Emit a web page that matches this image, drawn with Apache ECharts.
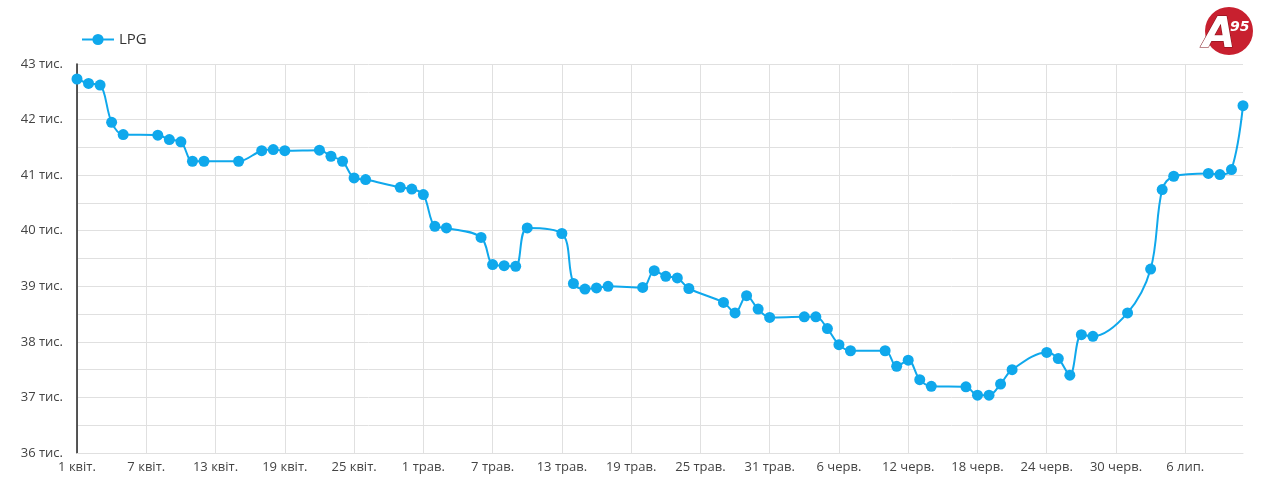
<!DOCTYPE html>
<html>
<head>
<meta charset="utf-8">
<script src="https://cdn.jsdelivr.net/npm/echarts@6/dist/echarts.min.js"></script>
<style>
html,body{margin:0;padding:0;background:#fff;}
#chart{width:1280px;height:486px;}
</style>
</head>
<body>
<div id="chart"></div>
<script>
// Day offsets from 1 квіт.
const days = [0,1,2,3,4,7,8,9,10,11,14,16,17,18,21,22,23,24,25,28,29,30,31,32,35,36,37,38,39,42,43,44,45,46,49,50,51,52,53,56,57,58,59,60,63,64,65,66,67,70,71,72,73,74,77,78,79,80,81,84,85,86,87,88,91,93,94,95,98,99,100,101];
// LPG values, thousands
const lpg = [42.73,42.65,42.62,41.95,41.73,41.72,41.64,41.60,41.25,41.25,41.25,41.44,41.46,41.44,41.45,41.34,41.25,40.95,40.92,40.78,40.75,40.65,40.08,40.05,39.88,39.39,39.37,39.36,40.05,39.95,39.05,38.95,38.97,39.00,38.98,39.28,39.18,39.15,38.96,38.71,38.52,38.83,38.59,38.44,38.45,38.45,38.24,37.95,37.84,37.84,37.56,37.67,37.32,37.20,37.19,37.04,37.04,37.24,37.50,37.81,37.70,37.40,38.13,38.10,38.52,39.31,40.74,40.98,41.03,41.01,41.10,42.25];
const xTickLabels = ['1 квіт.','7 квіт.','13 квіт.','19 квіт.','25 квіт.','1 трав.','7 трав.','13 трав.','19 трав.','25 трав.','31 трав.','6 черв.','12 черв.','18 черв.','24 черв.','30 черв.','6 лип.'];
const yTickSuffix = ' тис.';

const color = '#0fa8ec';
const font = '"Open Sans", "Noto Sans", sans-serif';

const chart = echarts.init(document.getElementById('chart'), null, {renderer: 'canvas'});
chart.setOption({
  animation: false,
  textStyle: {fontFamily: font},
  legend: {
    left: 76, top: 27,
    itemWidth: 32, itemHeight: 14, itemGap: 8,
    textStyle: {fontSize: 15, color: '#333', fontFamily: font},
    data: ['LPG']
  },
  grid: {left: 77, right: 37, top: 64, bottom: 33, outerBoundsMode: 'none'},
  xAxis: {
    type: 'value', min: 0, max: 101, interval: 6,
    axisLine: {show: true, lineStyle: {color: '#e0e0e0'}},
    axisTick: {show: false},
    axisLabel: {
      color: '#444', fontSize: 13, margin: 8, fontFamily: font,
      formatter: v => (v % 6 === 0 && xTickLabels[v / 6]) ? xTickLabels[v / 6] : ''
    },
    splitLine: {show: true, showMaxLine: false, lineStyle: {color: '#e0e0e0', width: 1}}
  },
  yAxis: {
    type: 'value', min: 36, max: 43, interval: 0.5,
    axisLine: {show: true, lineStyle: {color: '#222', width: 1.5}},
    axisTick: {show: false},
    axisLabel: {
      color: '#444', fontSize: 13, margin: 14, fontFamily: font,
      formatter: v => Number.isInteger(v) ? v + yTickSuffix : ''
    },
    splitLine: {show: true, lineStyle: {color: '#e0e0e0', width: 1}}
  },
  graphic: [
    {type: 'circle', shape: {cx: 1229, cy: 31, r: 24}, style: {fill: '#c8202f'}, z: 10},
    {type: 'text', x: 1203, y: 15, style: {text: 'A', fill: '#fff', stroke: '#7a0d16', lineWidth: 1, font: 'italic bold 42px "DejaVu Sans", sans-serif'}, z: 11},
    {type: 'text', x: 1230, y: 20, style: {text: '95', fill: '#fff', font: 'italic bold 14px "DejaVu Sans", sans-serif'}, z: 11}
  ],
  series: [{
    name: 'LPG',
    type: 'line',
    smooth: 0.35,
    symbol: 'circle',
    symbolSize: 11,
    lineStyle: {color: color, width: 2},
    itemStyle: {color: color},
    data: days.map((d, i) => [d, lpg[i]])
  }]
});
</script>
</body>
</html>
